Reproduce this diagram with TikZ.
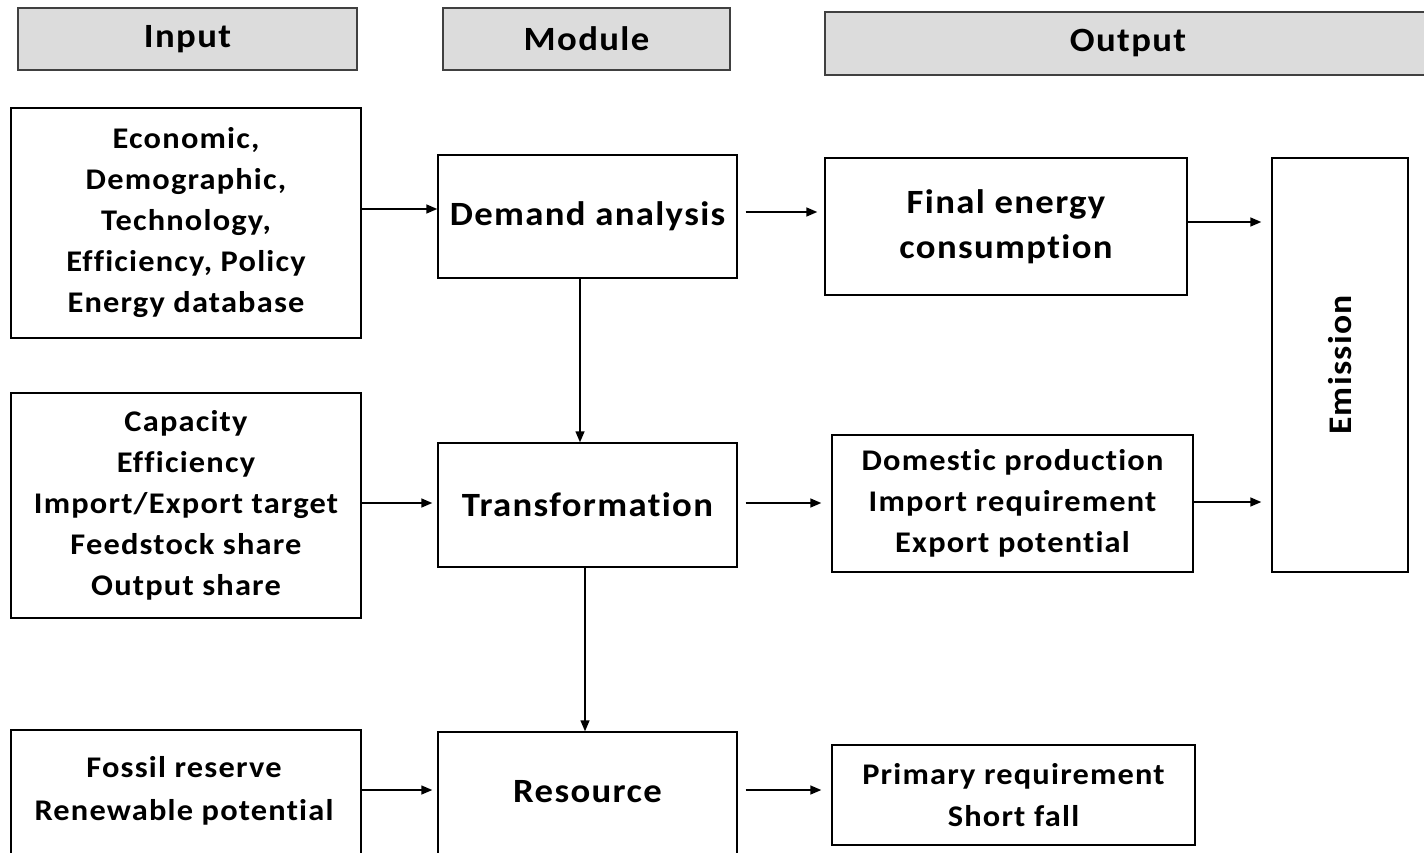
\documentclass[tikz,border=0pt]{standalone}
\usepackage{fontspec}
\setmainfont{Carlito}[LetterSpace=4, FakeStretch=1.08, Ligatures={NoCommon}]
\usetikzlibrary{arrows.meta}
\definecolor{hdrgray}{HTML}{DCDCDC}
\definecolor{hdrline}{HTML}{404040}
\tikzset{
  hdr/.style={draw=hdrline, line width=1.6pt, fill=hdrgray, inner sep=0pt, font=\fontsize{34}{40}\selectfont\bfseries},
  box/.style={draw=black, line width=1.4pt, inner sep=0pt, align=center},
  intext/.style={box, font=\fontsize{30}{41}\selectfont\bfseries},
  modtext/.style={box, font=\fontsize{34}{40}\selectfont\bfseries},
  outtext/.style={box, font=\fontsize{30}{42}\selectfont\bfseries},
  bigtext/.style={box, font=\fontsize{34}{45}\selectfont\bfseries},
  arr/.style={line width=1.4pt, -{Triangle[length=11pt,width=9pt]}}
}
\begin{document}
\begin{tikzpicture}[x=1pt,y=-1pt]
\useasboundingbox (0,0) rectangle (1424,853);
% headers
\node[hdr, minimum width=339pt, minimum height=62pt] (hin) at (187.5,39) {Input};
\node[hdr, minimum width=287pt, minimum height=62pt] (hmod) at (586.5,39) {Module};
\node[hdr, minimum width=606pt, minimum height=63pt] (hout) at (1128,43.5) {Output};
% inputs
\node[intext, minimum width=350pt, minimum height=230pt] (in1) at (186,223)
  {Economic,\\Demographic,\\Technology,\\Efficiency, Policy\\Energy database};
\node[intext, minimum width=350pt, minimum height=225pt] (in2) at (186,505.5)
  {Capacity\\Efficiency\\Import/Export target\\Feedstock share\\Output share};
\node[box, minimum width=350pt, minimum height=140pt] (in3) at (186,800) {};
\node[font=\fontsize{30}{43}\selectfont\bfseries, align=center] (in3t) at (184,791)
  {Fossil reserve\\Renewable potential};
% modules
\node[modtext, minimum width=299pt, minimum height=123pt] (dem) at (587.5,216.5) {Demand analysis};
\node[modtext, minimum width=299pt, minimum height=124pt] (trans) at (587.5,505) {Transformation};
\node[box, minimum width=299pt, minimum height=140pt] (res) at (587.5,802) {};
\node[font=\fontsize{34}{40}\selectfont\bfseries] (rest) at (587.5,792) {Resource};
% outputs
\node[bigtext, minimum width=362pt, minimum height=137pt] (fin) at (1006,226.5)
  {Final energy\\consumption};
\node[intext, minimum width=361pt, minimum height=137pt] (dom) at (1012.5,503.5)
  {Domestic production\\Import requirement\\Export potential};
\node[outtext, minimum width=363pt, minimum height=100pt] (pri) at (1013.5,795)
  {Primary requirement\\Short fall};
\node[box, minimum width=136pt, minimum height=414pt] (emi) at (1340,365) {};
\node[font=\fontsize{33}{40}\selectfont\bfseries, rotate=90] (emit) at (1340,365) {Emission};
% connectors
\draw[arr] (in1.east |- 0,209) -- (dem.west |- 0,209);
\draw[arr, shorten <=8pt, shorten >=7pt] (dem.east |- 0,212) -- (fin.west |- 0,212);
\draw[arr, shorten >=10pt] (fin.east |- 0,222) -- (emi.west |- 0,222);
\draw[arr, shorten >=5pt] (in2.east |- 0,503) -- (trans.west |- 0,503);
\draw[arr, shorten <=8pt, shorten >=10pt] (trans.east |- 0,503) -- (dom.west |- 0,503);
\draw[arr, shorten >=10pt] (dom.east |- 0,502) -- (emi.west |- 0,502);
\draw[arr, shorten >=5pt] (in3.east |- 0,790) -- (res.west |- 0,790);
\draw[arr, shorten <=8pt, shorten >=10pt] (res.east |- 0,790) -- (pri.west |- 0,790);
\draw[arr] (dem.south -| 580,0) -- (trans.north -| 580,0);
\draw[arr] (trans.south -| 585,0) -- (res.north -| 585,0);
\end{tikzpicture}
\end{document}
